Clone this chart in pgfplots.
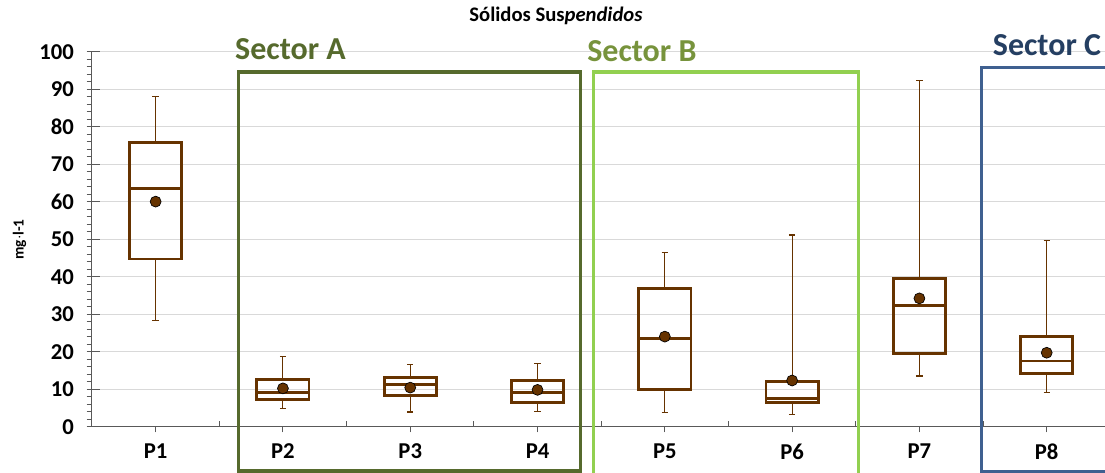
\documentclass[border=0pt]{standalone}
\usepackage{fontspec}
\setmainfont{Carlito}
\usepackage{pgfplots}
\pgfplotsset{compat=1.18}
\usepgfplotslibrary{statistics}
\definecolor{boxbrown}{HTML}{663300}
\definecolor{secA}{HTML}{566A2D}
\definecolor{secBline}{HTML}{92D050}
\definecolor{secBtext}{HTML}{77933C}
\definecolor{secCline}{HTML}{3F6090}
\definecolor{secCtext}{HTML}{253F62}
\definecolor{gridc}{HTML}{D9D9D9}
\definecolor{tickc}{HTML}{595959}
\begin{document}
\begin{tikzpicture}
\begin{axis}[
  name=A,
  width=759.75pt, height=281.25pt, scale only axis,
  xmin=0.5, xmax=8.458, ymin=0, ymax=100,
  clip=false,
  boxplot/draw direction=y,
  axis x line*=bottom, axis y line*=left,
  axis line style={draw=tickc, line width=0.75pt},
  xtick={1,2,3,4,5,6,7,8},
  xticklabels={P1,P2,P3,P4,P5,P6,P7,P8},
  ytick={0,10,...,100},
  minor y tick num=4,
  ymajorgrids,
  grid style={draw=gridc, line width=0.75pt},
  tick align=outside,
  major tick length=4pt, minor tick length=4pt,
  tick style={draw=tickc, line width=0.75pt},
  extra x ticks={1.5,2.5,3.5,4.5,5.5,6.5,7.5},
  extra x tick labels={},
  extra x tick style={tick align=inside, major tick length=4.5pt, xmajorgrids=false},
  extra y ticks={0,10,...,100},
  extra y tick labels={},
  extra y tick style={tick align=inside, major tick length=6pt, ymajorgrids=false},
  /pgf/number format/assume math mode=true,
  ticklabel style={font=\bfseries\fontsize{17}{17}\selectfont},
  yticklabel style={xshift=-6pt},
  xticklabel style={yshift=-5pt},
  ylabel={mg$\cdot$l-1},
  every axis y label/.style={at={(axis description cs:-0.0716,0.5)}, rotate=90, anchor=center, font=\bfseries\fontsize{11.5}{11.5}\selectfont},
]
\pgfplotsset{mybox/.style={draw=boxbrown, line width=2.1pt, solid,
  boxplot prepared={#1, box extend=0.41, whisker extend=0.05,
    every whisker/.style={line width=0.8pt}}}}
\addplot[mybox={draw position=1, lower whisker=28.3, lower quartile=44.8, median=63.6, upper quartile=75.8, upper whisker=88.1}] coordinates {};
\addplot[mybox={draw position=2, lower whisker=4.9, lower quartile=7.4, median=9.2, upper quartile=12.7, upper whisker=18.9}] coordinates {};
\addplot[mybox={draw position=3, lower whisker=4.0, lower quartile=8.3, median=11.4, upper quartile=13.2, upper whisker=16.6}] coordinates {};
\addplot[mybox={draw position=4, lower whisker=4.2, lower quartile=6.5, median=9.3, upper quartile=12.5, upper whisker=17.0}] coordinates {};
\addplot[mybox={draw position=5, lower whisker=3.8, lower quartile=9.9, median=23.6, upper quartile=37.0, upper whisker=46.6}] coordinates {};
\addplot[mybox={draw position=6, lower whisker=3.4, lower quartile=6.6, median=7.6, upper quartile=12.2, upper whisker=51.2}] coordinates {};
\addplot[mybox={draw position=7, lower whisker=13.6, lower quartile=19.5, median=32.4, upper quartile=39.6, upper whisker=92.3}] coordinates {};
\addplot[mybox={draw position=8, lower whisker=9.1, lower quartile=14.2, median=17.6, upper quartile=24.1, upper whisker=49.7}] coordinates {};
\addplot[only marks, mark=*, mark size=4.1pt, mark options={fill=boxbrown, draw=black, line width=0.5pt}]
  coordinates {(1,60.1) (2,10.3) (3,10.5) (4,9.9) (5,24.1) (6,12.4) (7,34.3) (8,19.8)};
\draw[secA, line width=2.5pt] (axis cs:1.652,-11.7) rectangle (axis cs:4.34,94.7);
\draw[secBline, line width=2.5pt] (axis cs:4.44,-14) rectangle (axis cs:6.52,94.7);
\draw[secCline, line width=2.5pt] (axis cs:7.49,-11.8) rectangle (axis cs:8.7,95.8);
\node[anchor=base west, inner sep=0pt, text=secA, font=\bfseries\fontsize{24}{24}\selectfont] at (axis cs:1.623,98.0) {Sector A};
\node[anchor=base west, inner sep=0pt, text=secBtext, font=\bfseries\fontsize{24}{24}\selectfont] at (axis cs:4.389,97.5) {Sector B};
\node[anchor=base west, inner sep=0pt, text=secCtext, font=\bfseries\fontsize{24}{24}\selectfont] at (axis cs:7.575,99.0) {Sector C};
\node[anchor=center, inner sep=0pt, font=\bfseries\fontsize{15.5}{15.5}\selectfont] at (axis cs:4.145,109.6) {Sólidos Sus\textit{pendidos}};
\end{axis}
\pgfresetboundingbox
\path[use as bounding box] ([xshift=-69pt,yshift=-34.5pt]A.south west) rectangle ([yshift=39pt]A.north east);
\end{tikzpicture}
\end{document}
